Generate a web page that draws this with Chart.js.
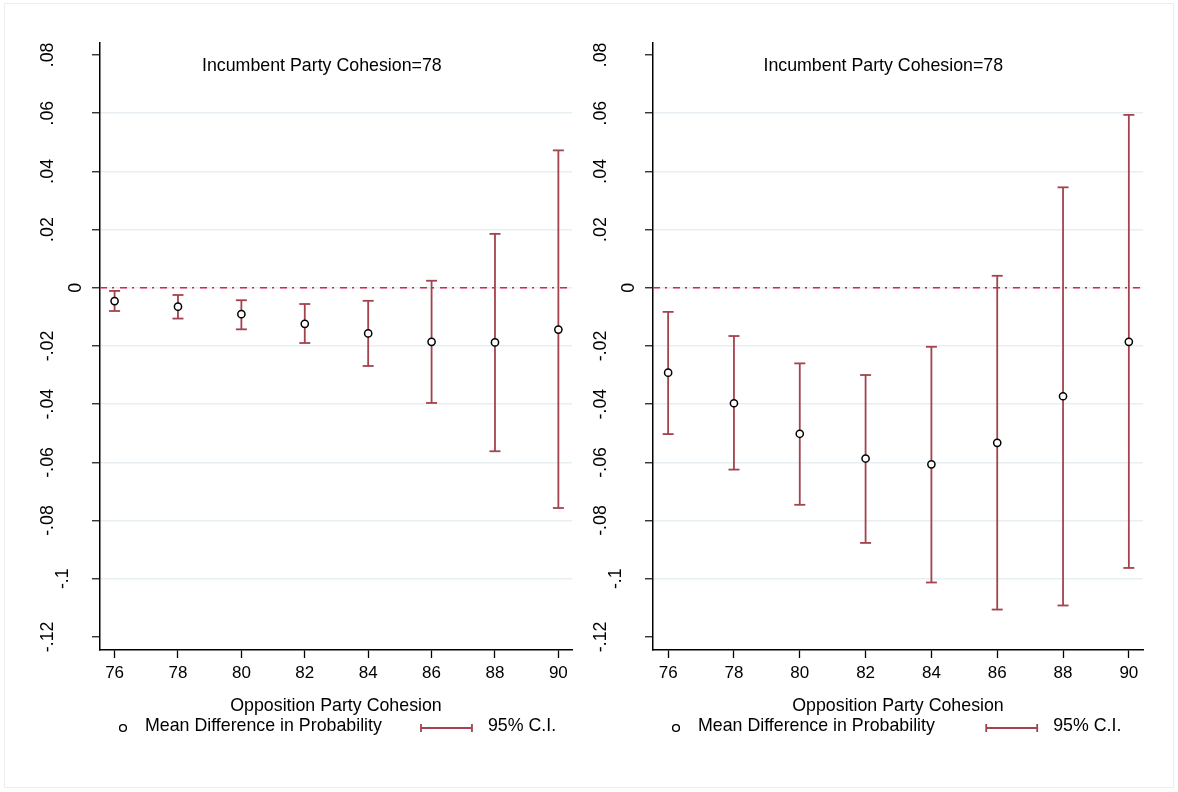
<!DOCTYPE html>
<html>
<head>
<meta charset="utf-8">
<script src="https://cdn.jsdelivr.net/npm/chart.js@4.4.1/dist/chart.umd.min.js"></script>
<style>
  html, body { margin: 0; padding: 0; background: #fff; }
  #wrap { position: relative; width: 1178px; height: 792px; overflow: hidden; }
  #frame { position: absolute; left: 4px; top: 3px; width: 1170px; height: 785px; border: 1px solid #eeeeee; box-sizing: border-box; }
  canvas { position: absolute; top: 0; }
  #leftChart { left: 0; }
  #rightChart { left: 588px; }
</style>
</head>
<body>
<div id="wrap">
  <div id="frame"></div>
  <canvas id="leftChart" width="588" height="792"></canvas>
  <canvas id="rightChart" width="590" height="792"></canvas>
</div>
<script>
// ===== data =====
const cohesion = [76, 78, 80, 82, 84, 86, 88, 90];
const xTicks = [76, 78, 80, 82, 84, 86, 88, 90];
const yTicks = [0.08, 0.06, 0.04, 0.02, 0, -0.02, -0.04, -0.06, -0.08, -0.1, -0.12];
const yTickLabels = [".08", ".06", ".04", ".02", "0", "-.02", "-.04", "-.06", "-.08", "-.1", "-.12"];

// left panel
const meanLeft = [-0.0046, -0.0065, -0.0091, -0.0124, -0.0157, -0.0186, -0.0188, -0.0144];
const lowLeft  = [-0.0080, -0.0106, -0.0143, -0.0190, -0.0269, -0.0396, -0.0562, -0.0757];
const highLeft = [-0.0011, -0.0025, -0.0043, -0.0056, -0.0045, 0.0024, 0.0185, 0.0472];

// right panel
const meanRight = [-0.0292, -0.0397, -0.0502, -0.0587, -0.0607, -0.0533, -0.0373, -0.0186];
const lowRight  = [-0.0503, -0.0625, -0.0746, -0.0877, -0.1013, -0.1106, -0.1092, -0.0963];
const highRight = [-0.0083, -0.0166, -0.0260, -0.0300, -0.0203, 0.0041, 0.0345, 0.0594];

const panelTitle = "Incumbent Party Cohesion=78";
const xTitle = "Opposition Party Cohesion";
const legendMean = "Mean Difference in Probability";
const legendCI = "95% C.I.";

// ===== styling =====
const FONT = '"Liberation Sans", Arial, Helvetica, sans-serif';
const TEXT_SIZE = 17.8;
const CI_COLOR = "#a3434e";
const ZERO_COLOR = "#d9234e";
const GRID_COLOR = "#e8eff2";
const X_MIN = 75.54, X_MAX = 90.43;
const Y_MIN = -0.1245, Y_MAX = 0.0841;

Chart.defaults.font.family = FONT;
Chart.defaults.font.size = 17;
Chart.defaults.color = "#000";

// titles, rotated y labels and legend drawn on the canvas
const panelText = {
  id: "panelText",
  afterDraw(chart) {
    const { ctx, chartArea: a, scales } = chart;
    const y = scales.y;
    const w = a.right - a.left;
    ctx.save();
    ctx.font = TEXT_SIZE + "px " + FONT;
    ctx.fillStyle = "#000";

    // y tick labels (vertical, like Stata)
    yTicks.forEach((v, i) => {
      const txt = yTickLabels[i];
      const tw = ctx.measureText(txt).width;
      const off = tw < 12 ? 23.5 : (tw < 21 ? 37 : 52);
      ctx.save();
      ctx.translate(a.left - off, y.getPixelForValue(v));
      ctx.rotate(-Math.PI / 2);
      ctx.textAlign = "center";
      ctx.textBaseline = "middle";
      ctx.fillText(txt, 0, 0);
      ctx.restore();
    });

    ctx.textAlign = "center";
    ctx.textBaseline = "middle";
    ctx.fillText(panelTitle, a.left + 0.47 * w, 66);
    ctx.fillText(xTitle, (a.left + a.right) / 2, 706);

    // legend
    const ly = 728;
    ctx.beginPath();
    ctx.arc(a.left + 23, ly, 3.4, 0, Math.PI * 2);
    ctx.strokeStyle = "#000";
    ctx.lineWidth = 1.4;
    ctx.stroke();
    ctx.textAlign = "left";
    ctx.fillText(legendMean, a.left + 45, ly - 1.5);

    const ls = a.left + 0.68 * w;
    ctx.strokeStyle = CI_COLOR;
    ctx.lineWidth = 1.8;
    ctx.beginPath();
    ctx.moveTo(ls, ly); ctx.lineTo(ls + 51, ly);
    ctx.moveTo(ls, ly - 4); ctx.lineTo(ls, ly + 4);
    ctx.moveTo(ls + 51, ly - 4); ctx.lineTo(ls + 51, ly + 4);
    ctx.stroke();
    ctx.fillText(legendCI, ls + 67, ly - 1.5);
    ctx.restore();
  }
};

function ciPoints(low, high) {
  const pts = [];
  cohesion.forEach((x, i) => {
    pts.push({ x: x, y: low[i] });
    pts.push({ x: x, y: high[i] });
    pts.push({ x: x, y: null });
  });
  return pts;
}

function makePanel(canvasId, mean, low, high, axisWidth, padRight) {
  new Chart(document.getElementById(canvasId), {
    type: "scatter",
    data: {
      datasets: [
        {
          label: legendMean,
          data: cohesion.map((x, i) => ({ x: x, y: mean[i] })),
          pointRadius: 3.6,
          pointBorderWidth: 1.5,
          pointBorderColor: "#000",
          pointBackgroundColor: "#fff",
          showLine: false,
        },
        {
          label: legendCI,
          data: ciPoints(low, high),
          showLine: true,
          spanGaps: false,
          borderColor: CI_COLOR,
          borderWidth: 1.8,
          pointStyle: "line",
          pointRadius: 5.5,
          pointBorderWidth: 1.8,
          pointBorderColor: CI_COLOR,
        },
        {
          label: "zero",
          data: [{ x: X_MIN, y: 0 }, { x: X_MAX, y: 0 }],
          showLine: true,
          borderColor: ZERO_COLOR,
          borderWidth: 1.6,
          borderDash: [7, 5, 2, 6],
          pointRadius: 0,
        },
      ],
    },
    options: {
      responsive: false,
      devicePixelRatio: 1,
      animation: false,
      layout: { padding: { top: 43, right: padRight, left: 0, bottom: 0 } },
      plugins: { legend: { display: false }, tooltip: { enabled: false } },
      scales: {
        x: {
          type: "linear",
          min: X_MIN,
          max: X_MAX,
          afterBuildTicks: (s) => { s.ticks = xTicks.map((v) => ({ value: v })); },
          afterFit: (s) => { s.height = 142; },
          ticks: { color: "#000", padding: 5, maxRotation: 0, autoSkip: false,
                   font: { size: 17 }, callback: (v) => String(v) },
          grid: { drawOnChartArea: false, drawTicks: true, tickLength: 8, tickColor: "#000", tickWidth: 1.3 },
          border: { color: "#000", width: 1.5 },
        },
        y: {
          type: "linear",
          min: Y_MIN,
          max: Y_MAX,
          afterBuildTicks: (s) => { s.ticks = yTicks.map((v) => ({ value: v })); },
          afterFit: (s) => { s.width = axisWidth; },
          ticks: { display: false },
          grid: {
            color: (c) => (c.index === 0 || c.index === yTicks.length - 1) ? "rgba(0,0,0,0)" : GRID_COLOR,
            lineWidth: 1.5,
            drawTicks: true,
            tickLength: 8,
            tickColor: "#222",
            tickWidth: 1.3,
          },
          border: { color: "#000", width: 1.5 },
        },
      },
    },
    plugins: [panelText],
  });
}

makePanel("leftChart", meanLeft, lowLeft, highLeft, 100, 16);
makePanel("rightChart", meanRight, lowRight, highRight, 65, 35);
</script>
</body>
</html>
